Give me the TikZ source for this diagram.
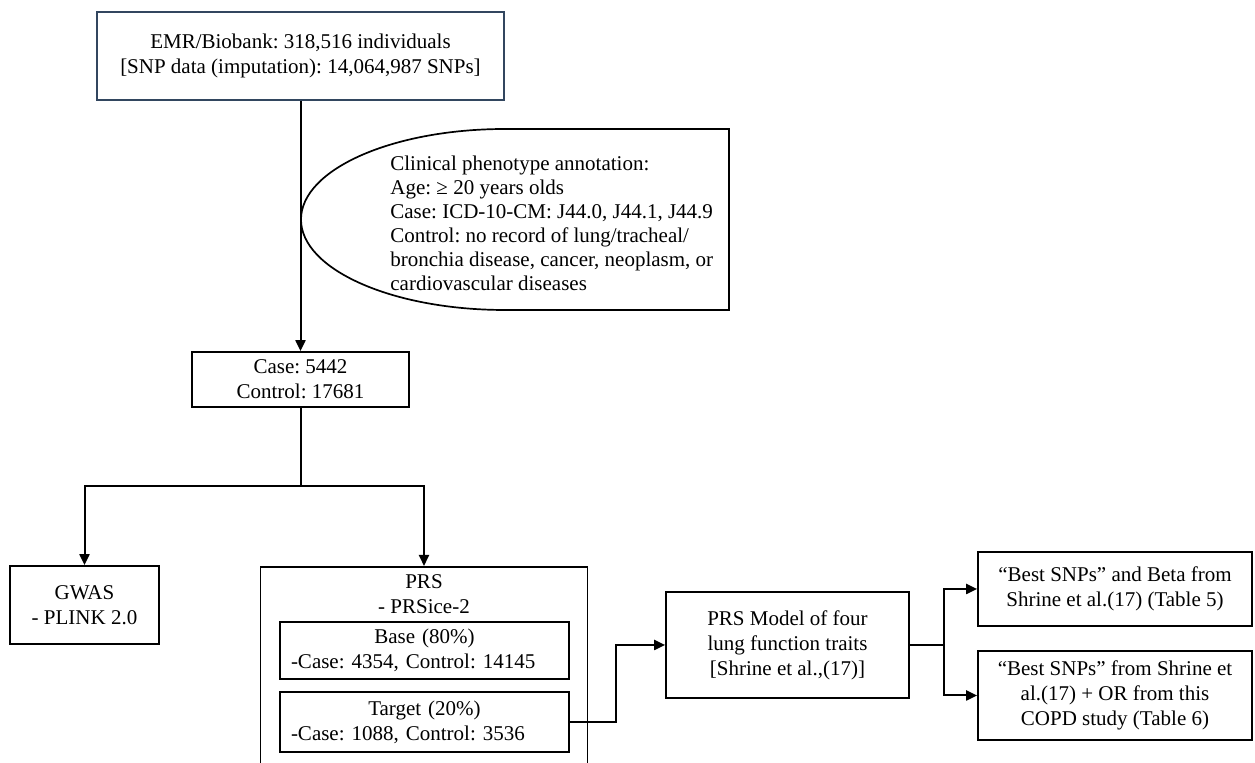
\documentclass[tikz,border=0pt]{standalone}
\usepackage{fontspec}
\setmainfont{Liberation Serif}
\usepackage{tikz}
\usetikzlibrary{arrows.meta,positioning}
\definecolor{emrline}{RGB}{50,70,95}
\frenchspacing

\begin{document}
\begin{tikzpicture}[x=0.5pt,y=-0.5pt,
  box/.style={draw,line width=0.85pt,align=center,inner sep=0pt,font=\fontsize{10.5pt}{12.5pt}\selectfont},
  split/.style={box,align=left,inner xsep=5.5pt,text width=133.5pt},
  arr/.style={line width=1pt,-{Triangle[length=5.5pt,width=5pt]}},
  link/.style={line width=1pt}]

\path[use as bounding box] (0,0) rectangle (1255,763);
\clip (0,0) rectangle (1255,763);

\node[box,draw=emrline,minimum width=203.5pt,minimum height=44pt] (emr) at (300.5,56) {EMR/Biobank: 318,516 individuals\\{[}SNP data (imputation): 14,064,987 SNPs{]}};

\draw[line width=0.85pt] (505,129) -- (729,129) -- (729,310) -- (505,310) arc[start angle=90,end angle=270,x radius=204,y radius=90.5] -- cycle;
\node[anchor=west,align=left,inner sep=0pt,font=\fontsize{10.5pt}{12pt}\selectfont] (pheno) at (390,223) {Clinical phenotype annotation:\\Age: ≥ 20 years olds\\Case: ICD-10-CM: J44.0, J44.1, J44.9\\Control: no record of lung/tracheal/\\bronchia disease, cancer, neoplasm, or\\cardiovascular diseases};

\node[box,minimum width=108.5pt,minimum height=27.5pt] (case) at (300.5,379.5) {Case: 5442\\Control: 17681};

\node[box,minimum width=74.5pt,minimum height=39pt] (gwas) at (84.5,605) {GWAS\\- PLINK 2.0};
\node[box,minimum width=163.5pt,minimum height=117pt,anchor=north] (prs) at (424,566) {};
\node[align=center,inner sep=0pt,font=\fontsize{10.5pt}{12.5pt}\selectfont] (prstitle) at (424,594.5) {PRS\\- PRSice-2};
\node[split,minimum height=28.5pt] (base) at (424.5,650.5) {\makebox[\linewidth]{Base (80\%)}\\-Case: 4354, Control: 14145};
\node[split,minimum height=30pt] (target) at (424.5,722) {\makebox[\linewidth]{Target (20\%)}\\-Case: 1088, Control: 3536};

\node[box,minimum width=121.5pt,minimum height=53pt] (model) at (787.5,645) {PRS Model of four\\lung function traits\\{[}Shrine et al.,(17){]}};
\node[box,minimum width=137pt,minimum height=37pt] (best1) at (1115,589) {“Best SNPs” and Beta from\\Shrine et al.(17) (Table 5)};
\node[box,minimum width=137pt,minimum height=44.5pt] (best2) at (1115,695.5) {“Best SNPs” from Shrine et\\al.(17) + OR from this\\COPD study (Table 6)};

\draw[arr] (emr.south) -- (case.north);

\coordinate (fork) at (300.5,486);
\draw[link] (case.south) -- (fork);
\draw[arr] (fork) -| (gwas.north);
\draw[arr] (fork) -| (prs.north);

\draw[arr] (target.east) -| ([xshift=-24.5pt]model.west) -- (model.west);

\coordinate (join) at (944,645);
\draw[link] (model.east) -- (join);
\draw[arr] (join) |- (best1.west);
\draw[arr] (join) |- (best2.west);

\end{tikzpicture}
\end{document}
